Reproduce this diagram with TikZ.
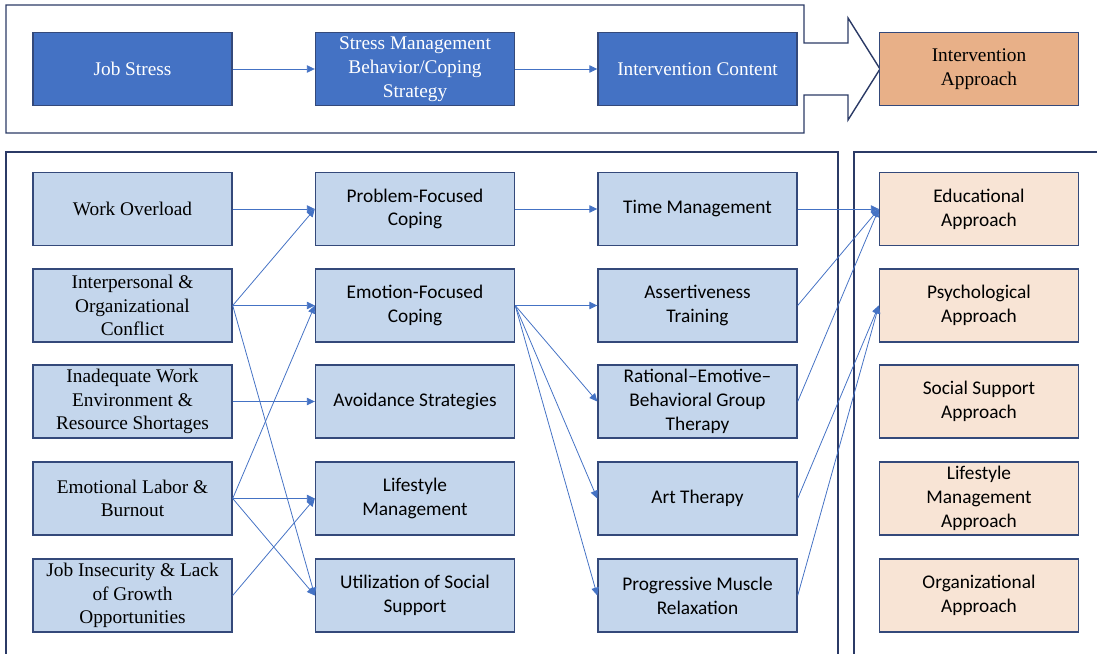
\documentclass[tikz,border=0pt]{standalone}
\usepackage{fontspec}
\setmainfont{Liberation Serif}
\newfontfamily\calibri{Carlito}
\usetikzlibrary{arrows.meta}
\definecolor{deepblue}{HTML}{4472C4}
\definecolor{paleblue}{HTML}{C4D6EC}
\definecolor{navyline}{HTML}{2B3A66}
\definecolor{boxline}{HTML}{34497A}
\definecolor{apricot}{HTML}{E8B088}
\definecolor{peach}{HTML}{F8E4D5}

\tikzset{
  box/.style={draw=boxline, line width=0.8pt, minimum width=3.98cm, minimum height=1.46cm,
    align=center, inner sep=0pt, font=\fontsize{11}{13.5}\selectfont},
  darkbox/.style={box, fill=deepblue, text=white},
  lightbox/.style={box, fill=paleblue},
  sansbox/.style={lightbox, font=\fontsize{11}{13.5}\selectfont\calibri},
  orangebox/.style={box, fill=apricot},
  peachbox/.style={box, fill=peach, font=\fontsize{11}{13.5}\selectfont\calibri},
  frame/.style={draw=navyline, line width=0.8pt},
  flow/.style={draw=deepblue, line width=0.45pt, -{Triangle[length=4.5pt,width=4.2pt]}}
}

\begin{document}
\begin{tikzpicture}
  \useasboundingbox (0,0) rectangle (21.94,-13.08);

  % top frame with the big arrow
  \draw[frame] (0.12,-0.10) -- (16.08,-0.10) -- (16.08,-0.86) -- (16.96,-0.86) -- (16.96,-0.36)
    -- (17.60,-1.38) -- (16.96,-2.40) -- (16.96,-1.90) -- (16.08,-1.90) -- (16.08,-2.66)
    -- (0.12,-2.66) -- cycle;

  % lower frames
  \draw[frame] (0.12,-13.08) -- (0.12,-3.04) -- (16.76,-3.04) -- (16.76,-13.08);
  \draw[frame] (17.08,-13.08) -- (17.08,-3.04) -- (21.94,-3.04);

  % top row
  \node[darkbox] (stress) at (2.65,-1.38) {Job Stress};
  \node[darkbox] (coping) at (8.30,-1.38) {Stress Management\\Behavior/Coping\\Strategy};
  \node[darkbox] (content) at (13.95,-1.38) {Intervention Content};
  \node[orangebox] (approach) at (19.58,-1.38) {Intervention\\Approach};

  \draw[flow] (stress) -- (coping);
  \draw[flow] (coping) -- (content);

  % stressors
  \node[lightbox] (overload) at (2.65,-4.18) {Work Overload};
  \node[lightbox] (conflict) at (2.65,-6.11) {Interpersonal \&\\Organizational\\Conflict};
  \node[lightbox] (environment) at (2.65,-8.03) {Inadequate Work\\Environment \&\\Resource Shortages};
  \node[lightbox] (labor) at (2.65,-9.97) {Emotional Labor \&\\Burnout};
  \node[lightbox] (insecurity) at (2.65,-11.91) {Job Insecurity \& Lack\\of Growth\\Opportunities};

  % coping strategies
  \node[sansbox] (problem) at (8.30,-4.18) {Problem-Focused\\Coping};
  \node[sansbox] (emotion) at (8.30,-6.11) {Emotion-Focused\\Coping};
  \node[sansbox] (avoidance) at (8.30,-8.03) {Avoidance Strategies};
  \node[sansbox] (lifestyle) at (8.30,-9.97) {Lifestyle\\Management};
  \node[sansbox] (social) at (8.30,-11.91) {Utilization of Social\\Support};

  % intervention contents
  \node[sansbox] (time) at (13.95,-4.18) {Time Management};
  \node[sansbox] (assert) at (13.95,-6.11) {Assertiveness\\Training};
  \node[sansbox] (rebt) at (13.95,-8.03) {Rational\textendash Emotive\textendash\\Behavioral Group\\Therapy};
  \node[sansbox] (art) at (13.95,-9.97) {Art Therapy};
  \node[sansbox] (pmr) at (13.95,-11.91) {Progressive Muscle\\Relaxation};

  % intervention approaches
  \node[peachbox] (edu) at (19.58,-4.18) {Educational\\Approach};
  \node[peachbox] (psych) at (19.58,-6.11) {Psychological\\Approach};
  \node[peachbox] (support) at (19.58,-8.03) {Social Support\\Approach};
  \node[peachbox] (lifeapp) at (19.58,-9.97) {Lifestyle\\Management\\Approach};
  \node[peachbox] (orgapp) at (19.58,-11.91) {Organizational\\Approach};

  % stressors -> coping
  \draw[flow] (overload.east) -- (problem.west);
  \draw[flow] (conflict.east) -- (problem.west);
  \draw[flow] (conflict.east) -- (emotion.west);
  \draw[flow] (conflict.east) -- (social.west);
  \draw[flow] (environment.east) -- (avoidance.west);
  \draw[flow] (labor.east) -- (emotion.west);
  \draw[flow] (labor.east) -- (lifestyle.west);
  \draw[flow] (labor.east) -- (social.west);
  \draw[flow] (insecurity.east) -- (lifestyle.west);

  % coping -> contents
  \draw[flow] (problem.east) -- (time.west);
  \draw[flow] (emotion.east) -- (assert.west);
  \draw[flow] (emotion.east) -- (rebt.west);
  \draw[flow] (emotion.east) -- (art.west);
  \draw[flow] (emotion.east) -- (pmr.west);

  % contents -> approaches
  \draw[flow] (time.east) -- (edu.west);
  \draw[flow] (assert.east) -- (edu.west);
  \draw[flow] (rebt.east) -- (edu.west);
  \draw[flow] (art.east) -- (psych.west);
  \draw[flow] (pmr.east) -- (psych.west);

\end{tikzpicture}
\end{document}
